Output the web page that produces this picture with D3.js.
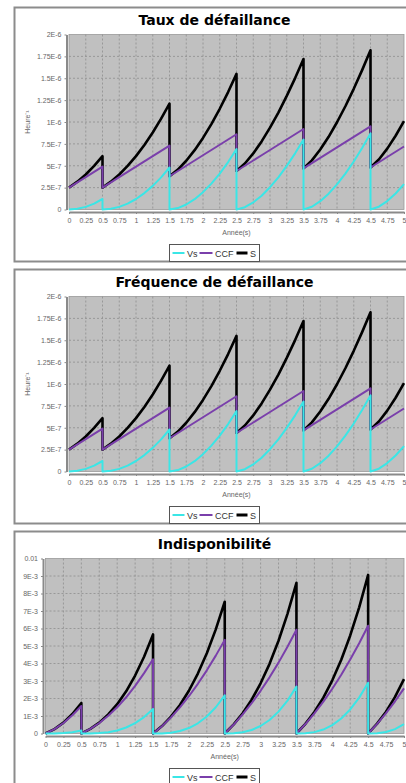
<!DOCTYPE html>
<html>
<head>
<meta charset="utf-8">
<script src="https://d3js.org/d3.v7.min.js"></script>
<style>
  body { margin: 0; background: #fff; }
  svg { display: block; }
  text { font-family: "Liberation Sans", Arial, sans-serif; }
  .titre { font-family: "DejaVu Sans", Verdana, sans-serif; font-weight: bold; font-size: 14px; }
</style>
</head>
<body>
<div id="chart"></div>
<script>
// années (x) : points doublés aux tests (0.5, 1.5, 2.5, 3.5, 4.5)
var annees = [0, 0.125, 0.25, 0.375, 0.5,
  0.5, 0.625, 0.75, 0.875, 1, 1.125, 1.25, 1.375, 1.5,
  1.5, 1.625, 1.75, 1.875, 2, 2.125, 2.25, 2.375, 2.5,
  2.5, 2.625, 2.75, 2.875, 3, 3.125, 3.25, 3.375, 3.5,
  3.5, 3.625, 3.75, 3.875, 4, 4.125, 4.25, 4.375, 4.5,
  4.5, 4.625, 4.75, 4.875, 5];

// taux de défaillance (x 1E-6 /h)
var tauxVs = [0, 0.0075, 0.03, 0.0675, 0.12,
  0, 0.0075, 0.03, 0.0675, 0.12, 0.1875, 0.27, 0.3675, 0.48,
  0, 0.016, 0.057, 0.118, 0.198, 0.296, 0.411, 0.542, 0.69,
  0, 0.026, 0.081, 0.158, 0.255, 0.368, 0.498, 0.642, 0.80,
  0, 0.031, 0.095, 0.181, 0.287, 0.410, 0.549, 0.703, 0.87,
  0, 0.032, 0.096, 0.183, 0.29];
var tauxCCF = [0.25, 0.31, 0.37, 0.43, 0.49,
  0.25, 0.31, 0.37, 0.43, 0.49, 0.55, 0.61, 0.67, 0.73,
  0.38, 0.44, 0.50, 0.56, 0.62, 0.68, 0.74, 0.80, 0.86,
  0.44, 0.50, 0.56, 0.62, 0.68, 0.74, 0.80, 0.86, 0.92,
  0.47, 0.53, 0.59, 0.65, 0.71, 0.77, 0.83, 0.89, 0.95,
  0.48, 0.54, 0.60, 0.66, 0.72];
var tauxS = [0.25, 0.318, 0.40, 0.498, 0.61,
  0.25, 0.318, 0.40, 0.498, 0.61, 0.738, 0.88, 1.038, 1.21,
  0.38, 0.456, 0.557, 0.678, 0.818, 0.976, 1.151, 1.342, 1.55,
  0.44, 0.526, 0.641, 0.778, 0.935, 1.108, 1.298, 1.502, 1.72,
  0.47, 0.561, 0.685, 0.831, 0.997, 1.18, 1.379, 1.593, 1.82,
  0.48, 0.572, 0.696, 0.843, 1.01];

// fréquence de défaillance (x 1E-6 /h) - lue identique au taux
var freqVs = tauxVs.slice();
var freqCCF = tauxCCF.slice();
var freqS = tauxS.slice();

// indisponibilité (x 1E-3)
var indispoVs = [0, 0.003, 0.022, 0.074, 0.175,
  0, 0.003, 0.022, 0.074, 0.175, 0.342, 0.591, 0.939, 1.40,
  0, 0.006, 0.045, 0.14, 0.313, 0.584, 0.974, 1.50, 2.18,
  0, 0.011, 0.068, 0.199, 0.427, 0.771, 1.25, 1.88, 2.68,
  0, 0.013, 0.079, 0.226, 0.479, 0.854, 1.373, 2.05, 2.9,
  0, 0.014, 0.086, 0.25, 0.53];
var indispoCCF = [0, 0.25, 0.6, 1.04, 1.57,
  0, 0.26, 0.6, 1.02, 1.5, 2.07, 2.72, 3.45, 4.24,
  0, 0.42, 0.92, 1.49, 2.13, 2.84, 3.61, 4.45, 5.35,
  0, 0.51, 1.09, 1.73, 2.44, 3.21, 4.05, 4.96, 5.93,
  0, 0.54, 1.15, 1.82, 2.56, 3.36, 4.23, 5.16, 6.16,
  0, 0.55, 1.16, 1.84, 2.58];
var indispoS = [0, 0.253, 0.622, 1.114, 1.745,
  0, 0.263, 0.622, 1.094, 1.675, 2.412, 3.311, 4.389, 5.66,
  0, 0.426, 0.965, 1.63, 2.443, 3.424, 4.584, 5.95, 7.53,
  0, 0.521, 1.158, 1.929, 2.867, 3.981, 5.30, 6.84, 8.61,
  0, 0.553, 1.229, 2.046, 3.039, 4.214, 5.603, 7.21, 9.06,
  0, 0.564, 1.246, 2.09, 3.11];

var xTicks = d3.range(0, 5.001, 0.25);
var xLabels = ["0", "0.25", "0.5", "0.75", "1", "1.25", "1.5", "1.75", "2", "2.25", "2.5",
  "2.75", "3", "3.25", "3.5", "3.75", "4", "4.25", "4.5", "4.75", "5"];
var ticksTaux = [0, 0.25, 0.5, 0.75, 1, 1.25, 1.5, 1.75, 2];
var labelsTaux = ["0", "2.5E-7", "5E-7", "7.5E-7", "1E-6", "1.25E-6", "1.5E-6", "1.75E-6", "2E-6"];
var ticksIndispo = [0, 1, 2, 3, 4, 5, 6, 7, 8, 9, 10];
var labelsIndispo = ["0", "1E-3", "2E-3", "3E-3", "4E-3", "5E-3", "6E-3", "7E-3", "8E-3", "9E-3", "0.01"];

var series = ["Vs", "CCF", "S"];
var couleurs = { Vs: "#3ae6e6", CCF: "#7a3fab", S: "#000000" };
var epaisseurs = { Vs: 2, CCF: 2, S: 2.6 };

var panels = [
  { titre: "Taux de défaillance", top: 7, left: 69, yMax: 2, ticks: ticksTaux, labels: labelsTaux,
    yTitre: "Heure\u207B\u00B9", data: { Vs: tauxVs, CCF: tauxCCF, S: tauxS } },
  { titre: "Fréquence de défaillance", top: 269, left: 69, yMax: 2, ticks: ticksTaux, labels: labelsTaux,
    yTitre: "Heure\u207B\u00B9", data: { Vs: freqVs, CCF: freqCCF, S: freqS } },
  { titre: "Indisponibilité", top: 531, left: 45.5, yMax: 10, ticks: ticksIndispo, labels: labelsIndispo,
    yTitre: null, data: { Vs: indispoVs, CCF: indispoCCF, S: indispoS } }
];

var svg = d3.select("#chart").append("svg")
  .attr("width", 406)
  .attr("height", 783);

var plotRight = 404;

panels.forEach(function(p) {
  var g = svg.append("g");
  var plotTop = p.top + 27.5;
  var plotBottom = p.top + 202.5;

  // cadre du panneau
  g.append("rect")
    .attr("x", 14.5).attr("y", p.top + 0.5)
    .attr("width", 402).attr("height", 254)
    .attr("fill", "#fff")
    .attr("stroke", "#8c8c8c")
    .attr("stroke-width", 2);

  g.append("text")
    .attr("class", "titre")
    .attr("x", 214.5).attr("y", p.top + 17.5)
    .attr("text-anchor", "middle")
    .text(p.titre);

  var x = d3.scaleLinear().domain([0, 5]).range([p.left, plotRight]);
  var y = d3.scaleLinear().domain([0, p.yMax]).range([plotBottom, plotTop]);

  g.append("rect")
    .attr("x", p.left).attr("y", plotTop)
    .attr("width", plotRight - p.left).attr("height", plotBottom - plotTop)
    .attr("fill", "#c0c0c0")
    .attr("stroke", "#9a9a9a")
    .attr("stroke-width", 0.8);

  // grille
  g.append("g").selectAll("line").data(xTicks.slice(1, -1)).enter().append("line")
    .attr("x1", function(d) { return x(d); }).attr("x2", function(d) { return x(d); })
    .attr("y1", plotTop).attr("y2", plotBottom)
    .attr("stroke", "#8e8e8e").attr("stroke-width", 0.8).attr("stroke-dasharray", "2,2");
  g.append("g").selectAll("line").data(p.ticks.slice(1, -1)).enter().append("line")
    .attr("x1", p.left).attr("x2", plotRight)
    .attr("y1", function(d) { return y(d); }).attr("y2", function(d) { return y(d); })
    .attr("stroke", "#8e8e8e").attr("stroke-width", 0.8).attr("stroke-dasharray", "2,2");

  // axes
  var yAxis = g.append("g")
    .attr("transform", "translate(" + (p.left - 2.5) + ",0)")
    .call(d3.axisLeft(y).tickValues(p.ticks)
      .tickFormat(function(d, i) { return p.labels[i]; })
      .tickSize(2).tickSizeOuter(0).tickPadding(3));
  var xAxis = g.append("g")
    .attr("transform", "translate(0," + (plotBottom + 2.5) + ")")
    .call(d3.axisBottom(x).tickValues(xTicks)
      .tickFormat(function(d, i) { return xLabels[i]; })
      .tickSize(2).tickSizeOuter(0).tickPadding(4.5));
  [yAxis, xAxis].forEach(function(a) {
    a.select(".domain").attr("stroke", "#8a8a8a").attr("stroke-width", 2);
    a.selectAll(".tick line").attr("stroke", "#8a8a8a");
    a.selectAll(".tick text")
      .attr("fill", "#666")
      .style("font-size", "7px")
      .style("font-family", "'Liberation Sans', Arial, sans-serif");
  });

  g.append("text")
    .attr("x", (p.left + plotRight) / 2).attr("y", plotBottom + 25.5)
    .attr("text-anchor", "middle")
    .attr("fill", "#666")
    .style("font-size", "7px")
    .text("Année(s)");

  if (p.yTitre) {
    g.append("text")
      .attr("transform", "translate(29.5," + (plotTop + plotBottom) / 2 + ") rotate(-90)")
      .attr("text-anchor", "middle")
      .attr("fill", "#666")
      .style("font-size", "7px")
      .text(p.yTitre);
  }

  // courbes : S dessous, puis CCF, puis Vs
  var line = d3.line()
    .x(function(d, i) { return x(annees[i]); })
    .y(function(d) { return y(d); });
  ["S", "CCF", "Vs"].forEach(function(k) {
    g.append("path")
      .datum(p.data[k])
      .attr("d", line)
      .attr("fill", "none")
      .attr("stroke", couleurs[k])
      .attr("stroke-width", epaisseurs[k])
      .attr("stroke-linejoin", "round");
  });

  // légende
  var leg = g.append("g").attr("transform", "translate(169.5," + (p.top + 237.5) + ")");
  leg.append("rect")
    .attr("width", 90).attr("height", 17)
    .attr("fill", "#fff").attr("stroke", "#555").attr("stroke-width", 1);
  var legX = { Vs: 3, CCF: 30, S: 67 };
  var legW = { Vs: 12, CCF: 13, S: 11 };
  series.forEach(function(k) {
    leg.append("line")
      .attr("x1", legX[k]).attr("x2", legX[k] + legW[k])
      .attr("y1", 8.5).attr("y2", 8.5)
      .attr("stroke", couleurs[k])
      .attr("stroke-width", k == "S" ? 3 : 2);
    leg.append("text")
      .attr("x", legX[k] + legW[k] + 2.5).attr("y", 12)
      .attr("fill", "#333")
      .style("font-size", "9px")
      .text(k);
  });
});
</script>
</body>
</html>
